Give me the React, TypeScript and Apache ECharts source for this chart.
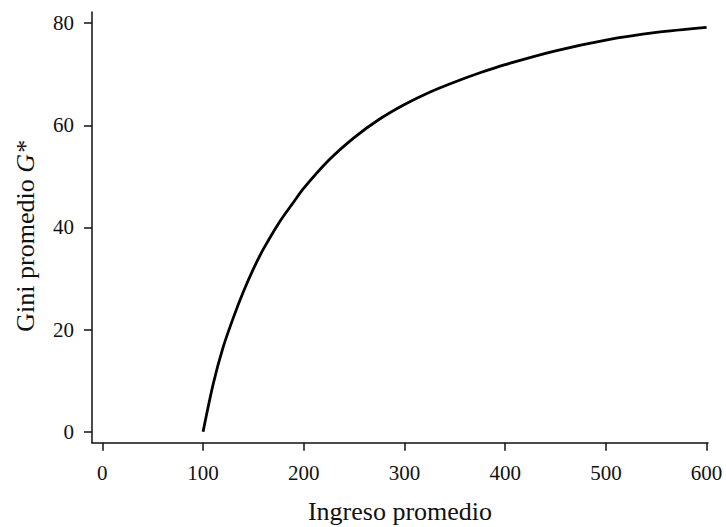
import React, { useEffect, useRef } from "react";
import * as echarts from "echarts";

const incomeValues = [100, 110, 120, 130, 140, 150, 160, 175, 190, 200, 225, 250, 275, 300, 325, 350, 375, 400, 450, 500, 550, 600];
const giniValues = [0, 9.3, 16.6, 22.3, 27.4, 31.9, 35.8, 40.8, 45.0, 47.7, 53.2, 57.6, 61.2, 64.1, 66.5, 68.5, 70.3, 71.9, 74.6, 76.7, 78.2, 79.2];
const xTickValues = [0, 100, 200, 300, 400, 500, 600];
const yTickValues = [0, 20, 40, 60, 80];

const FONT = "Liberation Serif";
const INK = "#111111";

export default function App() {
  const ref = useRef<HTMLDivElement>(null);
  useEffect(() => {
    document.body.style.margin = "0";
    document.body.style.overflow = "hidden";
    if (!ref.current) return;
    const chart = echarts.init(ref.current, undefined, { renderer: "svg" });
    chart.setOption({
      animation: false,
      backgroundColor: "#ffffff",
      grid: { left: 92, top: 12, width: 616, height: 430.7, containLabel: false, outerBoundsMode: "none" },
      xAxis: {
        type: "value",
        min: -10.3,
        max: 601.4,
        name: "Ingreso promedio",
        nameLocation: "middle",
        nameGap: 56,
        nameTextStyle: { fontFamily: FONT, fontSize: 26, color: INK },
        axisLine: { show: true, onZero: false, lineStyle: { color: INK, width: 1.5 } },
        axisTick: { show: true, length: 8, customValues: xTickValues, lineStyle: { color: INK, width: 1.5 } },
        axisLabel: { customValues: xTickValues, margin: 20, fontFamily: FONT, fontSize: 21, color: INK },
        splitLine: { show: false },
      },
      yAxis: {
        type: "value",
        min: -2.15,
        max: 82.2,
        name: "Gini promedio {i|G*}",
        nameLocation: "middle",
        nameGap: 54,
        nameRotate: 90,
        nameTextStyle: {
          fontFamily: FONT,
          fontSize: 26,
          color: INK,
          padding: [0, 18, 0, 0],
          rich: { i: { fontFamily: FONT, fontSize: 26, fontStyle: "italic", color: INK } },
        },
        axisLine: { show: true, onZero: false, lineStyle: { color: INK, width: 1.5 } },
        axisTick: { show: true, length: 8, customValues: yTickValues, lineStyle: { color: INK, width: 1.5 } },
        axisLabel: { customValues: yTickValues, margin: 18, fontFamily: FONT, fontSize: 21, color: INK },
        splitLine: { show: false },
      },
      series: [
        {
          type: "line",
          data: incomeValues.map((x, i) => [x, giniValues[i]]),
          smooth: 0.3,
          showSymbol: false,
          lineStyle: { color: "#000000", width: 2.8 },
        },
      ],
    });
    return () => chart.dispose();
  }, []);
  return <div ref={ref} style={{ width: 726, height: 527 }} />;
}
